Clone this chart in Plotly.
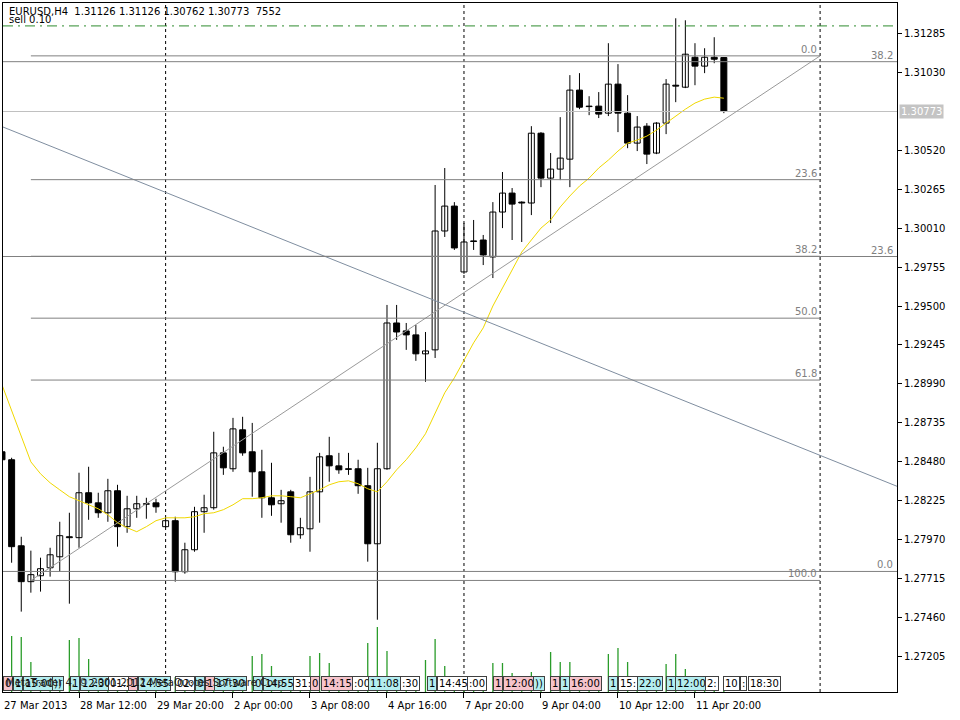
import plotly.graph_objects as go

# ---------------- data ----------------
bar_open = [1.28546, 1.28494, 1.27931, 1.27696, 1.27735, 1.27787, 1.27859, 1.27990, 1.27984, 1.28278,
            1.28212, 1.28147, 1.28291, 1.28056, 1.28173, 1.28206, 1.28212, 1.28056, 1.28095, 1.27761,
            1.27905, 1.28154, 1.28180, 1.28539, 1.28435, 1.28690, 1.28546, 1.28415, 1.28245, 1.28206,
            1.28284, 1.28003, 1.28042, 1.28284, 1.28520, 1.28454, 1.28435, 1.28435, 1.28324, 1.27944,
            1.28435, 1.29389, 1.29337, 1.29311, 1.29187, 1.29213, 1.29991, 1.30154, 1.29723, 1.29926,
            1.29932, 1.29821, 1.30115, 1.30239, 1.30180, 1.30174, 1.30631, 1.30337, 1.30396, 1.30461,
            1.30913, 1.30808, 1.30808, 1.30762, 1.30952, 1.30762, 1.30566, 1.30677, 1.30501, 1.30697,
            1.30945, 1.30932, 1.31128, 1.31070, 1.31128, 1.31126]
bar_high = [1.28559, 1.28507, 1.27990, 1.27899, 1.27853, 1.27918, 1.28088, 1.28147, 1.28409, 1.28448,
            1.28278, 1.28369, 1.28330, 1.28258, 1.28258, 1.28245, 1.28239, 1.28114, 1.28121, 1.27951,
            1.28186, 1.28265, 1.28677, 1.28579, 1.28768, 1.28775, 1.28735, 1.28559, 1.28474, 1.28297,
            1.28297, 1.28114, 1.28382, 1.28539, 1.28644, 1.28539, 1.28539, 1.28494, 1.28441, 1.28605,
            1.29507, 1.29507, 1.29389, 1.29376, 1.29330, 1.30292, 1.30403, 1.30180, 1.30043, 1.30063,
            1.29965, 1.30180, 1.30377, 1.30272, 1.30185, 1.30677, 1.30638, 1.30501, 1.30736, 1.31011,
            1.31024, 1.30873, 1.30900, 1.31220, 1.31083, 1.30880, 1.30743, 1.30697, 1.30703, 1.30985,
            1.31383, 1.31370, 1.31220, 1.31187, 1.31259, 1.31126]
bar_low = [1.28480, 1.27820, 1.27500, 1.27624, 1.27631, 1.27729, 1.27761, 1.27552, 1.27918, 1.28101,
           1.28114, 1.28088, 1.27925, 1.28016, 1.28114, 1.28108, 1.28147, 1.28049, 1.27696, 1.27748,
           1.27892, 1.28016, 1.28167, 1.28395, 1.28415, 1.28520, 1.28252, 1.28114, 1.28127, 1.28082,
           1.27951, 1.27977, 1.27892, 1.28082, 1.28350, 1.28402, 1.28395, 1.28271, 1.27827, 1.27447,
           1.28428, 1.29278, 1.29213, 1.29141, 1.29004, 1.29160, 1.29952, 1.29867, 1.29710, 1.29867,
           1.29768, 1.29683, 1.30010, 1.29932, 1.29919, 1.30095, 1.30278, 1.30043, 1.30324, 1.30278,
           1.30788, 1.30749, 1.30730, 1.30743, 1.30638, 1.30533, 1.30514, 1.30429, 1.30494, 1.30625,
           1.30834, 1.30926, 1.30945, 1.31024, 1.31089, 1.30762]
bar_close = [1.28494, 1.27925, 1.27696, 1.27742, 1.27781, 1.27872, 1.27997, 1.27984, 1.28278, 1.28212,
             1.28147, 1.28291, 1.28056, 1.28173, 1.28206, 1.28203, 1.28186, 1.28095, 1.27761, 1.27905,
             1.28154, 1.28180, 1.28539, 1.28441, 1.28696, 1.28539, 1.28415, 1.28245, 1.28199, 1.28226,
             1.28003, 1.28049, 1.28284, 1.28513, 1.28454, 1.28428, 1.28431, 1.28324, 1.27944, 1.28435,
             1.29389, 1.29330, 1.29311, 1.29187, 1.29206, 1.29991, 1.30154, 1.29880, 1.29919, 1.29922,
             1.29834, 1.30115, 1.30239, 1.30167, 1.30174, 1.30631, 1.30337, 1.30396, 1.30468, 1.30913,
             1.30801, 1.30805, 1.30756, 1.30952, 1.30762, 1.30566, 1.30671, 1.30494, 1.30697, 1.30952,
             1.30939, 1.31148, 1.31070, 1.31128, 1.31115, 1.30773]
ma_values = [1.28984, 1.28820, 1.28657, 1.28480, 1.28402, 1.28343, 1.28297, 1.28252, 1.28226, 1.28199,
             1.28173, 1.28134, 1.28082, 1.28049, 1.28023, 1.28056, 1.28095, 1.28114, 1.28114, 1.28114,
             1.28121, 1.28141, 1.28147, 1.28167, 1.28199, 1.28239, 1.28239, 1.28245, 1.28258, 1.28258,
             1.28252, 1.28245, 1.28271, 1.28297, 1.28330, 1.28350, 1.28356, 1.28337, 1.28304, 1.28284,
             1.28350, 1.28428, 1.28494, 1.28572, 1.28664, 1.28801, 1.28932, 1.29030, 1.29141, 1.29259,
             1.29357, 1.29500, 1.29618, 1.29736, 1.29853, 1.29932, 1.30010, 1.30063, 1.30148, 1.30220,
             1.30285, 1.30337, 1.30403, 1.30455, 1.30514, 1.30566, 1.30586, 1.30612, 1.30651, 1.30697,
             1.30743, 1.30788, 1.30828, 1.30854, 1.30867, 1.30860]
volumes = [3000, 11200, 11000, 6000, 2800, 2400, 2600, 10400, 10800, 6600,
           3000, 2600, 2800, 2400, 2200, 2000, 2200, 1800, 3000, 2600,
           2400, 2800, 3000, 2600, 3000, 2800, 7200, 7600, 5200, 2800,
           3000, 2600, 7200, 7800, 5800, 2600, 2400, 2800, 9800, 13000,
           8200, 2800, 2600, 3000, 6400, 10600, 5200, 2800, 2000, 2600,
           3000, 5800, 5800, 3800, 2800, 4000, 3000, 8000, 6000, 6000,
           3000, 2600, 3000, 7600, 8800, 6000, 3000, 2600, 3000, 5600,
           7600, 4600, 3000, 2600, 2800, 2400]

tick_bars = [0, 8, 16, 24, 32, 40, 48, 56, 64, 72]
tick_labels = ["27 Mar 2013", "28 Mar 12:00", "29 Mar 20:00", "2 Apr 00:00", "3 Apr 08:00",
               "4 Apr 16:00", "7 Apr 20:00", "9 Apr 04:00", "10 Apr 12:00", "11 Apr 20:00"]
price_ticks = [1.27205, 1.27460, 1.27715, 1.27970, 1.28225, 1.28480, 1.28735, 1.28990, 1.29245,
               1.29500, 1.29755, 1.30010, 1.30265, 1.30520, 1.31030, 1.31285]
separator_bars = [17, 48, 85]

bid_price = 1.30773
order_price = 1.31333

fib_levels = [0.0, 23.6, 38.2, 50.0, 61.8, 100.0]
fib1_bars = [3, 85]
fib1_price0 = 1.31137
fib1_price100 = 1.27704
fib2_bars = [-20, 120]
fib2_price0 = 1.27763
fib2_price100 = 1.36496

trend_bars = [0, 93]
trend_prices = [1.30674, 1.28320]

event_bars = [0.10, 1.14, 2.18, 5.19, 7.06, 8.10, 11.01, 13.09, 14.13, 17.97, 20.05, 21.09, 22.03,
              26.08, 27.12, 30.23, 32.00, 33.14, 36.36, 38.03, 41.35, 44.16, 45.19, 48.31, 51.01,
              52.05, 55.17, 56.94, 57.97, 58.91, 62.96, 64.00, 65.97, 68.99, 69.92, 73.04, 74.91,
              76.68, 77.51]
event_texts = ["0", "1", "15:00", "))", "1", "12:30", "01:2", "1", "14:55", "02:", "0", "1", "17:30",
               "0", "14:55", "31:", "0", "14:15", ":00", "11:08", ":30", "1", "14:45", ":00", "1",
               "12:00", "))", "1", "1", "16:00", "1", "15:", "22:0", "1", "12:00", "2:", "10",
               ":", "18:30"]
event_kinds = ["p", "c", "c", "c", "c", "c", "w", "p", "c", "w", "c", "p", "c",
               "c", "c", "w", "p", "p", "w", "c", "w", "c", "w", "w", "p",
               "p", "c", "p", "c", "p", "c", "w", "c", "c", "c", "w", "w",
               "w", "w"]

# ---------------- styling ----------------
FONT = "DejaVu Sans"
kind_color = {"p": "#f6c4cc", "c": "#b4eef0", "w": "#ffffff"}
n = len(bar_open)
idx = list(range(n))
y_min, y_max = 1.26974, 1.31483
x_min, x_max = 0.104, 92.99

fig = go.Figure()

# volumes
vx, vy = [], []
for i in idx:
    vx += [i, i, None]
    vy += [0, volumes[i], None]
fig.add_trace(go.Scatter(x=vx, y=vy, mode="lines", line=dict(color="#2a9c2a", width=1.3),
                         yaxis="y2", hoverinfo="skip"))

# wicks
wx, wy = [], []
for i in idx:
    wx += [i, i, None]
    wy += [bar_low[i], bar_high[i], None]
fig.add_trace(go.Scatter(x=wx, y=wy, mode="lines", line=dict(color="black", width=1),
                         hoverinfo="skip"))

# bodies
for up in (True, False):
    sel = [i for i in idx if (bar_close[i] >= bar_open[i]) == up]
    base = [min(bar_open[i], bar_close[i]) for i in sel]
    hgt = [max(abs(bar_close[i] - bar_open[i]), 0.00002) for i in sel]
    fig.add_trace(go.Bar(x=sel, y=hgt, base=base, width=0.62,
                         marker=dict(color="white" if up else "black",
                                     line=dict(color="black", width=1)),
                         hoverinfo="skip"))

# moving average
fig.add_trace(go.Scatter(x=idx, y=ma_values, mode="lines", line=dict(color="#f0d800", width=1),
                         hoverinfo="skip"))

# bid line & order line
fig.add_trace(go.Scatter(x=[x_min, x_max], y=[bid_price, bid_price], mode="lines",
                         line=dict(color="#c0c0c0", width=1), hoverinfo="skip"))
fig.add_trace(go.Scatter(x=[x_min, x_max], y=[order_price, order_price], mode="lines",
                         line=dict(color="#2e8b2e", width=1, dash="10px,5px,2px,5px"),
                         hoverinfo="skip"))

# trend line
fig.add_trace(go.Scatter(x=trend_bars, y=trend_prices, mode="lines",
                         line=dict(color="#7f8ea0", width=1), hoverinfo="skip"))

annotations = []

# fibo 1
fig.add_trace(go.Scatter(x=fib1_bars, y=[fib1_price100, fib1_price0], mode="lines",
                         line=dict(color="#9a9a9a", width=1), hoverinfo="skip"))
for lv in fib_levels:
    p = fib1_price0 + (fib1_price100 - fib1_price0) * lv / 100.0
    fig.add_trace(go.Scatter(x=fib1_bars, y=[p, p], mode="lines",
                             line=dict(color="#808080", width=1), hoverinfo="skip"))
    annotations.append(dict(x=fib1_bars[1], y=p, xref="x", yref="y", text=f"{lv:.1f}",
                            showarrow=False, xanchor="right", yanchor="bottom", xshift=-1, yshift=-1,
                            font=dict(family=FONT, size=10, color="#808080")))
# fibo 2
for lv in fib_levels:
    p = fib2_price0 + (fib2_price100 - fib2_price0) * lv / 100.0
    if not (y_min < p < y_max):
        continue
    fig.add_trace(go.Scatter(x=fib2_bars, y=[p, p], mode="lines",
                             line=dict(color="#808080", width=1), hoverinfo="skip"))
    annotations.append(dict(x=1, y=p, xref="paper", yref="y", text=f"{lv:.1f}",
                            showarrow=False, xanchor="right", yanchor="bottom", xshift=-2, yshift=-1,
                            font=dict(family=FONT, size=10, color="#808080")))

# period separators
shapes = []
for b in separator_bars:
    shapes.append(dict(type="line", xref="x", yref="paper", x0=b, x1=b, y0=0, y1=1,
                       line=dict(color="black", width=1, dash="3px,3px"), layer="below"))

# x labels
for b, t in zip(tick_bars, tick_labels):
    annotations.append(dict(x=max(b, x_min + 0.01), y=0, xref="x", yref="paper", text=t,
                            showarrow=False, xanchor="left", yanchor="top", xshift=-1, yshift=-6,
                            font=dict(family=FONT, size=10, color="black")))

# event labels
for b, t, k in zip(event_bars, event_texts, event_kinds):
    annotations.append(dict(x=max(b, x_min + 0.01), y=0, xref="x", yref="paper", text=t,
                            showarrow=False, xanchor="left", yanchor="bottom", yshift=1,
                            bgcolor=kind_color[k], bordercolor="#404040", borderwidth=1, borderpad=1,
                            font=dict(family=FONT, size=10, color="black")))

annotations.append(dict(x=0, y=0, xref="paper", yref="paper",
                        text="MetaTrader 4, © 2001-2012 MetaQuotes Software Corp.",
                        showarrow=False, xanchor="left", yanchor="bottom", xshift=1, yshift=2,
                        font=dict(family=FONT, size=10, color="#202020")))

# header
annotations.append(dict(x=0, y=1, xref="paper", yref="paper",
                        text="EURUSD,H4\u00a0\u00a01.31126 1.31126 1.30762 1.30773\u00a0\u00a07552",
                        showarrow=False, xanchor="left", yanchor="top", xshift=4, yshift=-1,
                        font=dict(family=FONT, size=10, color="black")))
annotations.append(dict(x=0, y=1, xref="paper", yref="paper", text="sell 0.10",
                        showarrow=False, xanchor="left", yanchor="top", xshift=4, yshift=-9,
                        font=dict(family=FONT, size=10, color="black")))

# bid label
annotations.append(dict(x=1, y=bid_price, xref="paper", yref="y", text=f"{bid_price:.5f}",
                        showarrow=False, xanchor="left", yanchor="middle", xshift=2,
                        bgcolor="#c4c4c4", borderpad=1,
                        font=dict(family=FONT, size=10, color="white")))

fig.update_layout(
    width=960, height=720,
    margin=dict(l=3, r=63, t=3, b=28),
    paper_bgcolor="white", plot_bgcolor="white",
    showlegend=False, barmode="overlay", hovermode=False,
    shapes=shapes, annotations=annotations,
    xaxis=dict(range=[x_min, x_max], showgrid=False, zeroline=False, showline=True, mirror=True,
               linecolor="black", linewidth=1, tickvals=tick_bars, ticks="outside", ticklen=5,
               tickcolor="black", showticklabels=False, fixedrange=True),
    yaxis=dict(range=[y_min, y_max], side="right", showgrid=False, zeroline=False, showline=True,
               mirror=True, linecolor="black", linewidth=1, tickvals=price_ticks,
               tickformat=".5f", ticks="outside", ticklen=4, tickcolor="black",
               tickfont=dict(family=FONT, size=10, color="black"), fixedrange=True),
    yaxis2=dict(range=[0, 137800], overlaying="y", visible=False, fixedrange=True),
)

fig.write_html("out.html", config={"displayModeBar": False},
               post_script="document.body.style.margin='0px';")
